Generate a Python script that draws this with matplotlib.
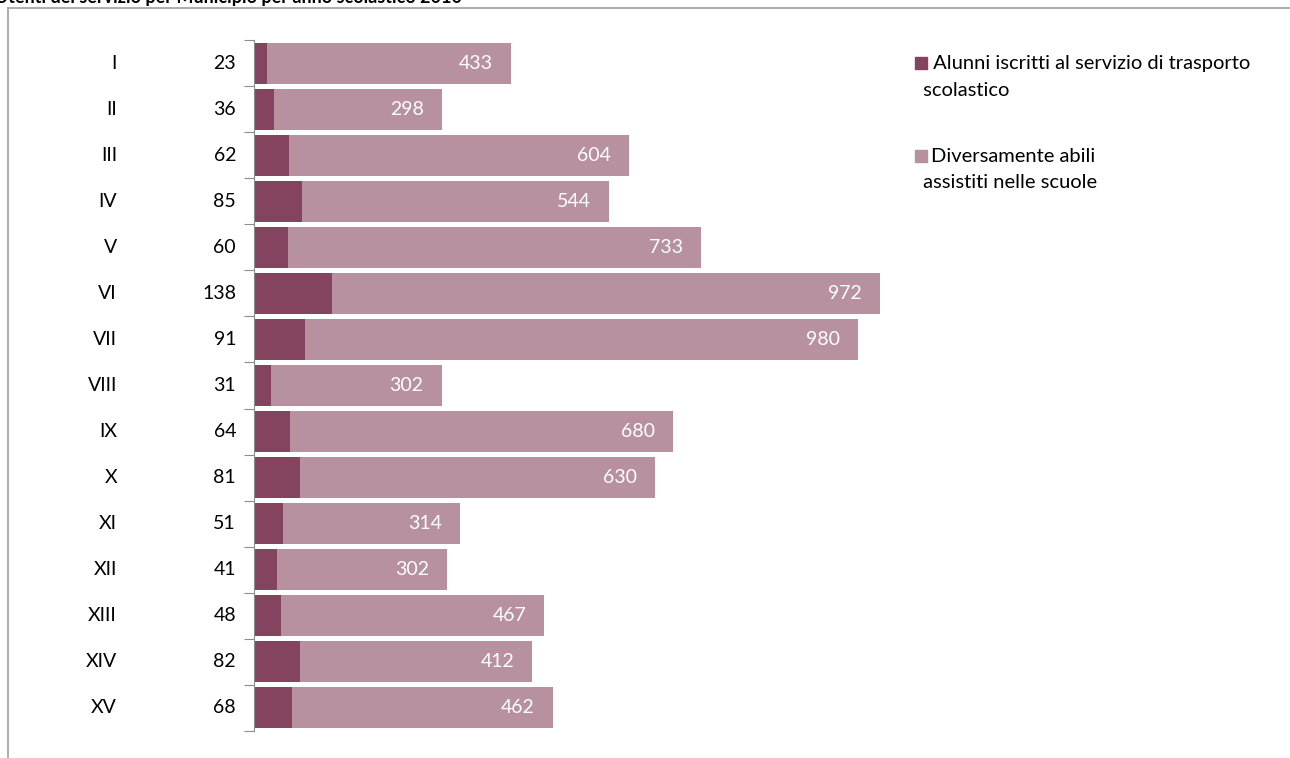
import numpy as np
import matplotlib.pyplot as plt
from matplotlib.lines import Line2D
from matplotlib.patches import Rectangle

plt.rcParams['font.family'] = ['Lato', 'DejaVu Sans']

municipi = ['I', 'II', 'III', 'IV', 'V', 'VI', 'VII', 'VIII', 'IX', 'X',
            'XI', 'XII', 'XIII', 'XIV', 'XV']
trasporto = [23, 36, 62, 85, 60, 138, 91, 31, 64, 81, 51, 41, 48, 82, 68]
disabili = [433, 298, 604, 544, 733, 972, 980, 302, 680, 630, 314, 302, 467, 412, 462]

label_trasporto = ' Alunni iscritti al servizio di trasporto\n scolastico'
label_disabili = 'Diversamente abili\n assistiti nelle scuole'
titolo = 'Utenti del servizio per Municipio per anno scolastico 2010'

c_dark = '#844460'
c_light = '#B791A0'

W, H = 1290, 758
fig = plt.figure(figsize=(W / 100, H / 100), dpi=100)

# axes placement in pixels
x0, x1 = 254, 900
ytop, ybot = 40, 731
ax = fig.add_axes([x0 / W, 1 - ybot / H, (x1 - x0) / W, (ybot - ytop) / H])
scale = 0.5636  # px per unit
ax.set_xlim(0, (x1 - x0) / scale)
ax.set_ylim(len(municipi) - 0.5, -0.5)

y = np.arange(len(municipi))
ax.barh(y, trasporto, height=0.89, color=c_dark, zorder=2)
ax.barh(y, disabili, left=trasporto, height=0.89, color=c_light, zorder=2)

for i in range(len(municipi)):
    tot = trasporto[i] + disabili[i]
    ax.annotate(str(disabili[i]), (tot, i), xytext=(-13, 0), textcoords='offset points',
                ha='right', va='center', color='white', fontsize=14)

for s in ['top', 'right', 'bottom']:
    ax.spines[s].set_visible(False)
ax.spines['left'].set_color('#8c8c8c')
ax.set_xticks([])
ax.set_yticks(np.arange(-0.5, len(municipi), 1))
ax.set_yticklabels([])
ax.tick_params(axis='y', length=7, color='#8c8c8c', direction='out')

# category labels and trasporto values on the left
trans = ax.get_yaxis_transform()
for i, m in enumerate(municipi):
    ax.text((117 - x0) / (x1 - x0), i, m, transform=trans, ha='right', va='center',
            fontsize=14, color='black')
    ax.text((236 - x0) / (x1 - x0), i, str(trasporto[i]), transform=trans, ha='right',
            va='center', fontsize=14, color='black')

# legend
fig.patches.append(Rectangle((915 / W, 1 - 69 / H), 12 / W, 12 / H, color=c_dark,
                             transform=fig.transFigure, figure=fig))
fig.patches.append(Rectangle((915 / W, 1 - 162 / H), 12 / W, 12 / H, color=c_light,
                             transform=fig.transFigure, figure=fig))
for lab, xs, ys in [(label_trasporto, 928, 63), (label_disabili, 931, 156)]:
    for k, line in enumerate(lab.split('\n')):
        xl = xs if k == 0 else 918
        fig.text(xl / W, 1 - (ys + 27 * k) / H, line, ha='left', va='center',
                 fontsize=14.5)

# frame of the chart area
fig.add_artist(Line2D([8 / W, 1], [1 - 8 / H, 1 - 8 / H], color='#a0a0a0', lw=1.2,
                      transform=fig.transFigure))
fig.add_artist(Line2D([8 / W, 8 / W], [0, 1 - 8 / H], color='#a0a0a0', lw=1.2,
                      transform=fig.transFigure))

# title cut off at the top
fig.text(-5 / W, 1 - 3 / H, titolo, ha='left', va='baseline', fontsize=13,
         fontweight='bold')

fig.savefig('out.png', dpi=100)
